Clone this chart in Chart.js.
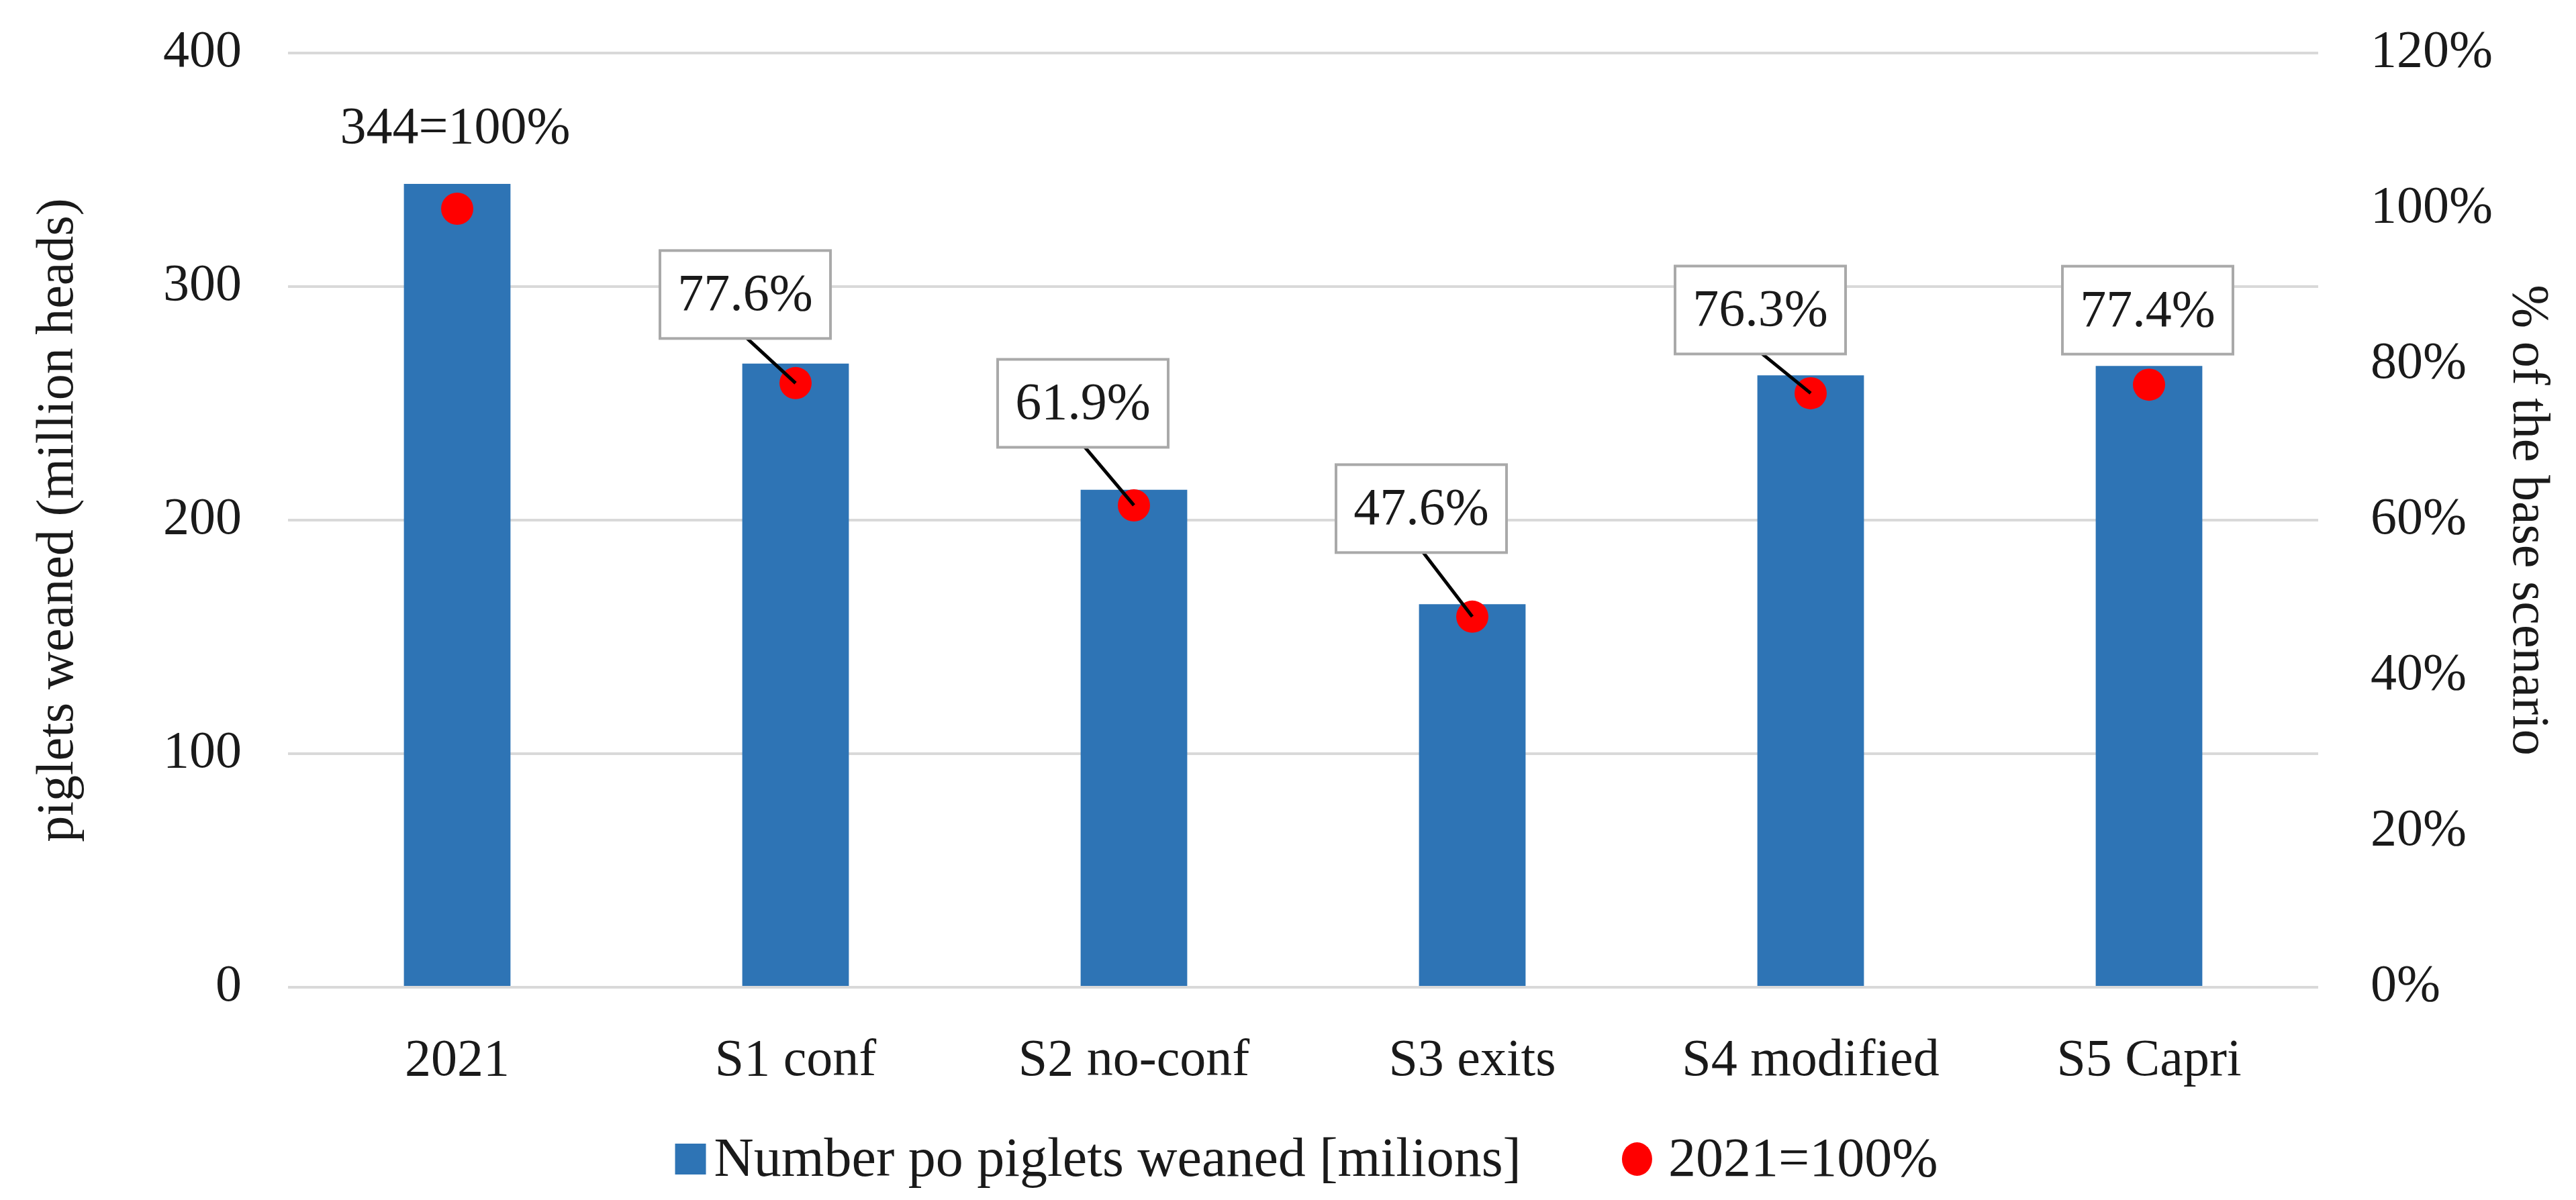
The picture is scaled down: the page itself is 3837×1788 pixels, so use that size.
<!DOCTYPE html>
<html>
<head>
<meta charset="utf-8">
<script src="https://cdn.jsdelivr.net/npm/chart.js@4.4.1/dist/chart.umd.min.js"></script>
<style>
  html, body { margin: 0; padding: 0; background: #ffffff; }
  #wrap { width: 3837px; height: 1788px; }
</style>
</head>
<body>
<div id="wrap"><canvas id="c" width="3837" height="1788"></canvas></div>
<script>
// ---- data ----
const categories = ['2021', 'S1 conf', 'S2 no-conf', 'S3 exits', 'S4 modified', 'S5 Capri'];
const pigletsWeaned = [344, 267, 213, 164, 262, 266];
const percentOfBase = [100, 77.6, 61.9, 47.6, 76.3, 77.4];
const leftTickValues = [0, 100, 200, 300, 400];
const rightTickValues = [0, 20, 40, 60, 80, 100, 120];
const seriesNames = ['Number po piglets weaned [milions]', '2021=100%'];
const axisTitles = ['piglets weaned (million heads)', '% of the base scenario'];

// ---- style ----
const FONT = "'Liberation Serif', 'Times New Roman', serif";
const FS = 78;
const LEGEND_FS = 82;
const TEXT = '#1a1a1a';
const BLUE = '#2E74B5';
const RED = '#FF0000';
const GRID = '#D9D9D9';
const CLEAR = 'rgba(0,0,0,0)';

// label placement (pixel offsets from each point, style only)
const labelLayout = [
  { boxed: false, leader: false, dx: -3,  dy: -121 },
  { boxed: true,  leader: true,  dx: -75, dy: -132 },
  { boxed: true,  leader: true,  dx: -76, dy: -152 },
  { boxed: true,  leader: true,  dx: -76, dy: -161 },
  { boxed: true,  leader: true,  dx: -75, dy: -124 },
  { boxed: true,  leader: false, dx: -2,  dy: -111 }
];
const BOX_W = 254, BOX_H = 131;

const labelPlugin = {
  id: 'pctLabels',
  afterDatasetsDraw(chart) {
    const ctx = chart.ctx;
    const meta = chart.getDatasetMeta(1);
    ctx.save();
    ctx.font = `${FS}px ${FONT}`;
    ctx.textAlign = 'center';
    ctx.textBaseline = 'middle';
    meta.data.forEach((pt, i) => {
      const s = labelLayout[i];
      const cx = pt.x + s.dx, cy = pt.y + s.dy;
      const text = i === 0 ? `${pigletsWeaned[0]}=100%` : percentOfBase[i].toFixed(1) + '%';
      if (s.boxed) {
        if (s.leader) {
          ctx.strokeStyle = '#000';
          ctx.lineWidth = 5;
          ctx.beginPath();
          ctx.moveTo(cx + 3, cy + BOX_H / 2);
          ctx.lineTo(pt.x, pt.y);
          ctx.stroke();
        }
        ctx.fillStyle = '#ffffff';
        ctx.fillRect(cx - BOX_W / 2, cy - BOX_H / 2, BOX_W, BOX_H);
        ctx.strokeStyle = '#A9A9A9';
        ctx.lineWidth = 4;
        ctx.strokeRect(cx - BOX_W / 2, cy - BOX_H / 2, BOX_W, BOX_H);
      }
      ctx.fillStyle = TEXT;
      ctx.fillText(text, cx, cy + 3);
    });
    ctx.restore();
  }
};

const legendPlugin = {
  id: 'customLegend',
  afterDraw(chart) {
    const ctx = chart.ctx;
    const ds = chart.data.datasets;
    ctx.save();
    ctx.font = `${LEGEND_FS}px ${FONT}`;
    ctx.textBaseline = 'middle';
    ctx.textAlign = 'left';
    const w1 = ctx.measureText(ds[0].label).width;
    const w2 = ctx.measureText(ds[1].label).width;
    const sq = 46, gap1 = 12, itemGap = 150, dotW = 45, gap2 = 24;
    const total = sq + gap1 + w1 + itemGap + dotW + gap2 + w2;
    const cy = chart.height - 61;
    let x = (chart.chartArea.left + chart.chartArea.right) / 2 + 5 - total / 2;
    ctx.fillStyle = ds[0].backgroundColor;
    ctx.fillRect(x, cy - sq / 2, sq, sq);
    x += sq + gap1;
    ctx.fillStyle = TEXT;
    ctx.fillText(ds[0].label, x, cy + 3);
    x += w1 + itemGap;
    ctx.fillStyle = ds[1].pointBackgroundColor;
    ctx.beginPath();
    ctx.ellipse(x + dotW / 2, cy, dotW / 2, 25, 0, 0, Math.PI * 2);
    ctx.fill();
    x += dotW + gap2;
    ctx.fillStyle = TEXT;
    ctx.fillText(ds[1].label, x, cy + 3);
    ctx.restore();
  }
};

new Chart(document.getElementById('c'), {
  data: {
    labels: categories,
    datasets: [
      {
        type: 'bar',
        label: seriesNames[0],
        data: pigletsWeaned,
        backgroundColor: BLUE,
        borderWidth: 0,
        yAxisID: 'y',
        categoryPercentage: 1,
        barPercentage: 0.315,
        order: 1
      },
      {
        type: 'line',
        label: seriesNames[1],
        data: percentOfBase,
        showLine: false,
        pointRadius: 24,
        pointHoverRadius: 24,
        pointBackgroundColor: RED,
        pointBorderWidth: 0,
        borderColor: RED,
        backgroundColor: RED,
        yAxisID: 'y2',
        order: 0
      }
    ]
  },
  options: {
    responsive: false,
    devicePixelRatio: 1,
    animation: false,
    layout: { padding: { top: 79, bottom: 0, left: 0, right: 0 } },
    plugins: {
      legend: { display: false },
      tooltip: { enabled: false }
    },
    scales: {
      x: {
        type: 'category',
        grid: { display: false, drawTicks: false },
        border: { display: false },
        ticks: { color: TEXT, font: { family: FONT, size: FS }, padding: 64, maxRotation: 0, autoSkip: false },
        afterFit(scale) { scale.height = 317; }
      },
      y: {
        position: 'left',
        min: 0, max: 400,
        afterBuildTicks(scale) { scale.ticks = leftTickValues.map(v => ({ value: v })); },
        grid: { color: GRID, lineWidth: 4, drawTicks: true, tickLength: 66, tickColor: CLEAR },
        border: { display: false },
        ticks: { color: TEXT, font: { family: FONT, size: FS }, padding: 3 },
        title: { display: true, text: axisTitles[0], color: TEXT, font: { family: FONT, size: FS }, padding: { top: 41, bottom: 0 } },
        afterFit(scale) { scale.width = 429; }
      },
      y2: {
        position: 'right',
        min: 0, max: 120,
        afterBuildTicks(scale) { scale.ticks = rightTickValues.map(v => ({ value: v })); },
        grid: { display: true, drawOnChartArea: false, color: CLEAR, drawTicks: true, tickLength: 75, tickColor: CLEAR },
        border: { display: false },
        ticks: { color: TEXT, font: { family: FONT, size: FS }, padding: 3, callback: v => v + '%' },
        title: { display: true, text: axisTitles[1], color: TEXT, font: { family: FONT, size: FS }, padding: { top: 26, bottom: 0 } },
        afterFit(scale) { scale.width = 384; }
      }
    }
  },
  plugins: [labelPlugin, legendPlugin]
});
</script>
</body>
</html>
